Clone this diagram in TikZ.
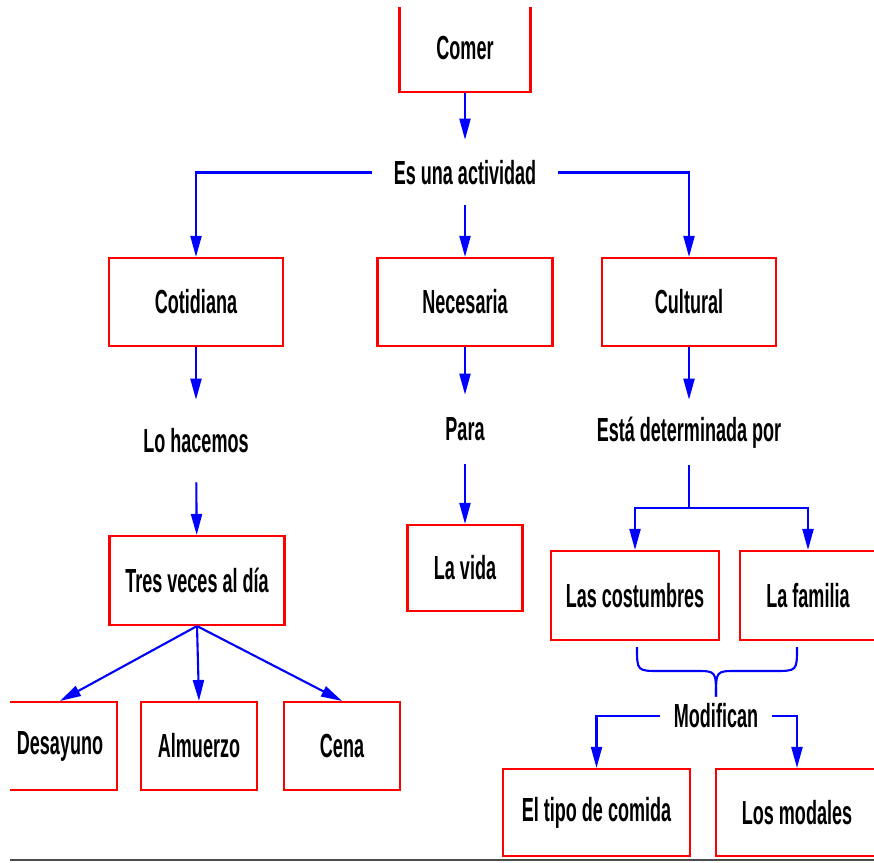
\documentclass[tikz,border=0pt]{standalone}
\usepackage{fontspec}
\setmainfont{Liberation Sans}[FakeStretch=0.54]
\usetikzlibrary{arrows.meta}

\begin{document}
\begin{tikzpicture}[x=0.02cm, y=-0.02cm,
    every node/.style={font=\fontsize{19}{22}\selectfont\bfseries},
    box/.style={draw=red, line width=1.2pt, minimum height=1.76cm, inner sep=0pt},
    lbl/.style={inner ysep=0pt, inner xsep=0.44cm},
    line/.style={draw=blue, line width=1.2pt},
    link/.style={line, -{Triangle[length=0.42cm, width=0.22cm]}}]
  \useasboundingbox (0,0) rectangle (874,862);
  \begin{scope}
    \clip (10,7) rectangle (874,858);
    \node[box, minimum width=2.62cm] (comer) at (465,48) {Comer};
    \node[lbl, minimum height=1.3cm] (act) at (465,172.5) {Es una actividad};
    \node[box, minimum width=3.48cm] (cot) at (196,302) {Cotidiana};
    \node[box, minimum width=3.5cm] (nec) at (465,302) {Necesaria};
    \node[box, minimum width=3.48cm] (cul) at (689,302) {Cultural};
    \node[lbl, minimum height=1.64cm] (hac) at (196,441) {Lo hacemos};
    \node[lbl, minimum height=1.38cm] (para) at (465,429.5) {Para};
    \node[lbl, minimum height=1.3cm] (det) at (689,432.5) {Está determinada por};
    \node[box, minimum width=3.5cm, minimum height=1.78cm] (tres) at (197,580.5) {Tres veces al día};
    \node[box, minimum width=2.3cm, minimum height=1.72cm] (vida) at (465,568) {La vida};
    \node[box, minimum width=3.36cm, minimum height=1.78cm] (cost) at (635,595.5) {Las costumbres};
    \node[box, minimum width=2.72cm, minimum height=1.78cm] (fam) at (808,595.5) {La familia};
    \node[box, minimum width=2.28cm] (des) at (60,746) {Desayuno};
    \node[box, minimum width=2.32cm] (alm) at (199,746) {Almuerzo};
    \node[box, minimum width=2.32cm] (cena) at (342,746) {Cena};
    \node[lbl, inner xsep=0.28cm, minimum height=0.76cm] (mod) at (716,716) {Modifican};
    \node[box, minimum width=3.74cm, minimum height=1.74cm] (tipo) at (596.5,812.5) {El tipo de comida};
    \node[box, minimum width=3.24cm, minimum height=1.74cm] (mdl) at (797,812.5) {Los modales};
    \coordinate (split) at (689,508);

    \draw[link] (comer) -- (act);
    \draw[link] (act.west) -| (cot.north);
    \draw[link] (act) -- (nec);
    \draw[link] (act.east) -| (cul.north);
    \draw[link] (cot) -- (hac);
    \draw[link] (hac) -- (tres);
    \draw[link] (nec) -- (para);
    \draw[link] (para) -- (vida);
    \draw[link] (cul) -- (det);
    \draw[line] (det) -- (split);
    \draw[link] (split) -| (cost.north);
    \draw[link] (split) -| (fam.north);
    \draw[link] (tres.south) -- (des.north);
    \draw[link] (tres.south) -- (alm.north);
    \draw[link] (tres.south) -- (cena.north);
    % brace under the two boxes
    \draw[line] (637,647) .. controls (637,671) .. (660,671) -- (696,671)
      .. controls (716,671) .. (mod.north);
    \draw[line] (797,647) .. controls (797,671) .. (774,671) -- (736,671)
      .. controls (716,671) .. (mod.north);
    \draw[link] (mod.west) -| (tipo.north);
    \draw[link] (mod.east) -| (mdl.north);
  \end{scope}
  \draw[gray!60!black, line width=0.04cm] (10,860) -- (874,860);
\end{tikzpicture}
\end{document}
